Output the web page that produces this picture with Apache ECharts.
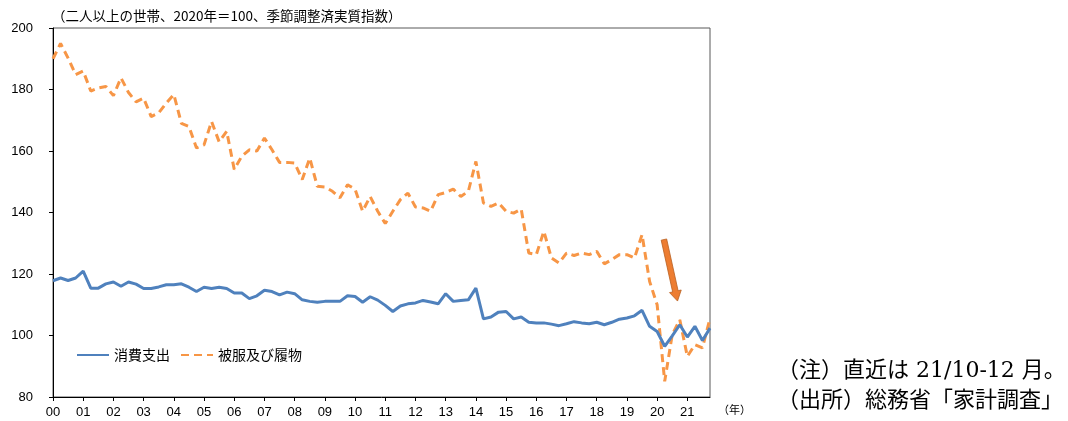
<!DOCTYPE html>
<html>
<head>
<meta charset="utf-8">
<script src="https://cdn.jsdelivr.net/npm/echarts@6/dist/echarts.min.js"></script>
<style>
  html, body { margin: 0; padding: 0; background: #fff; }
  #chart { width: 1068px; height: 421px; }
</style>
</head>
<body>
<div id="chart"></div>
<script>
// Year tick labels (one tick per year, first quarter)
const yearLabels = ['00','01','02','03','04','05','06','07','08','09','10',
                    '11','12','13','14','15','16','17','18','19','20','21'];
const quarterNames = ['Q1','Q2','Q3','Q4'];

// 消費支出 (quarterly, 2000Q1 - 2021Q4)
const consumption = [
  117.8, 118.7, 117.9, 118.7,
  120.9, 115.4, 115.4, 116.8,
  117.4, 116.0, 117.4, 116.7,
  115.3, 115.3, 115.8, 116.5,
  116.5, 116.8, 115.7, 114.3,
  115.7, 115.3, 115.7, 115.3,
  113.8, 113.8, 112.0, 112.9,
  114.7, 114.3, 113.2, 114.1,
  113.6, 111.6, 111.1, 110.8,
  111.1, 111.1, 111.1, 112.9,
  112.7, 110.8, 112.6, 111.5,
  109.8, 107.8, 109.6, 110.3,
  110.6, 111.4, 110.9, 110.3,
  113.6, 111.1, 111.4, 111.6,
  115.4, 105.4, 106.0, 107.6,
  107.8, 105.4, 106.0, 104.3,
  104.1, 104.1, 103.7, 103.2,
  103.8, 104.5, 104.1, 103.8,
  104.3, 103.5, 104.3, 105.3,
  105.7, 106.4, 108.2, 103.0,
  101.3, 96.5, 99.9, 103.5,
  99.5, 103.0, 98.4, 102.4
];

// 被服及び履物 (quarterly, 2000Q1 - 2021Q4)
const clothing = [
  190.0, 195.0, 190.2, 184.8,
  186.0, 179.5, 180.5, 181.0,
  178.0, 183.8, 179.0, 176.0,
  177.2, 171.2, 172.4, 175.6,
  178.4, 169.0, 168.0, 161.0,
  162.0, 169.6, 163.0, 166.4,
  154.0, 158.3, 160.4, 160.0,
  164.2, 160.4, 156.3, 156.3,
  156.1, 150.7, 157.7, 148.5,
  148.3, 146.9, 144.8, 149.0,
  147.6, 140.4, 145.2, 140.4,
  136.4, 140.4, 144.2, 146.3,
  141.8, 141.5, 140.4, 145.8,
  146.5, 147.6, 145.2, 146.9,
  156.6, 143.1, 142.0, 143.1,
  140.4, 139.8, 141.1, 126.8,
  126.3, 133.9, 125.2, 123.6,
  126.8, 126.0, 126.8, 126.3,
  127.4, 123.3, 124.7, 126.3,
  126.3, 125.2, 132.8, 117.6,
  110.0, 85.1, 100.3, 105.1,
  93.2, 97.0, 96.0, 105.6
];

// Annotation arrow, in (quarter index, index value) coordinates
const arrowFrom = [80.9, 131.2];
const arrowTo = [82.7, 111.2];

const categories = [];
yearLabels.forEach(function (y) {
  quarterNames.forEach(function (q) { categories.push(y + q); });
});

const chart = echarts.init(document.getElementById('chart'), null, { renderer: 'canvas' });

const numFont = 'Liberation Sans, Arial, sans-serif';
const jpFont = 'Noto Sans CJK JP, sans-serif';

chart.setOption({
  animation: false,
  backgroundColor: '#ffffff',
  grid: {
    left: 53, right: 358, top: 28, bottom: 24,
    show: true, borderColor: '#595959', borderWidth: 1,
    containLabel: false
  },
  xAxis: {
    type: 'category',
    data: categories,
    boundaryGap: false,
    axisLine: { lineStyle: { color: '#000', width: 1 } },
    axisTick: { show: true, interval: 3, length: 4, inside: false, lineStyle: { color: '#000' } },
    axisLabel: {
      interval: 3, margin: 9,
      color: '#000', fontFamily: numFont, fontSize: 13,
      formatter: function (v) { return v.slice(0, 2); }
    },
    splitLine: { show: false }
  },
  yAxis: {
    type: 'value',
    min: 80, max: 200, interval: 20,
    axisLine: { show: true, lineStyle: { color: '#000', width: 1 } },
    axisTick: { show: true, length: 4, lineStyle: { color: '#000' } },
    axisLabel: { color: '#000', fontFamily: numFont, fontSize: 13, margin: 20 },
    splitLine: { show: false }
  },
  legend: {
    left: 71, top: 343,
    itemWidth: 32, itemHeight: 10, itemGap: 10,
    itemStyle: { opacity: 0 },
    textStyle: { fontFamily: jpFont, fontSize: 14, color: '#000' },
    data: ['消費支出', '被服及び履物']
  },
  series: [
    {
      name: '消費支出', type: 'line', data: consumption,
      symbol: 'none', z: 3,
      lineStyle: { color: '#4F81BD', width: 3 },
      itemStyle: { color: '#4F81BD' }
    },
    {
      name: '被服及び履物', type: 'line', data: clothing,
      symbol: 'none', z: 2,
      lineStyle: { color: '#F79646', width: 3, type: [8, 5] },
      itemStyle: { color: '#F79646' }
    }
  ],
  graphic: [
    {
      id: 'unitNote', type: 'text', left: 52, top: 9,
      style: { text: '（二人以上の世帯、2020年＝100、季節調整済実質指数）', fontFamily: jpFont, fontSize: 13.5, fill: '#000' }
    },
    {
      id: 'yearUnit', type: 'text', left: 718, top: 404,
      style: { text: '（年）', fontFamily: jpFont, fontSize: 11, fill: '#000' }
    },
    {
      id: 'note', type: 'text', left: 777, top: 360,
      style: { text: '（注）直近は 21/10-12 月。', fontFamily: 'DejaVu Serif, Noto Sans CJK JP, serif', fontSize: 22, fill: '#000' }
    },
    {
      id: 'source', type: 'text', left: 777, top: 388,
      style: { text: '（出所）総務省「家計調査」', fontFamily: 'Noto Sans CJK JP, serif', fontSize: 22, fill: '#000' }
    }
  ]
});

// Place the annotation arrow through the chart's own axes
function toPixel(pt) {
  const i0 = Math.floor(pt[0]);
  const f = pt[0] - i0;
  const xa = chart.convertToPixel({ xAxisIndex: 0 }, i0);
  const xb = chart.convertToPixel({ xAxisIndex: 0 }, i0 + 1);
  const y = chart.convertToPixel({ yAxisIndex: 0 }, pt[1]);
  return [xa + (xb - xa) * f, y];
}
const a = toPixel(arrowFrom);
const b = toPixel(arrowTo);
const dx = b[0] - a[0], dy = b[1] - a[1];
const len = Math.sqrt(dx * dx + dy * dy);
const ux = dx / len, uy = dy / len;
const nx = -uy, ny = ux;
const bodyHalf = 2.8, headHalf = 6, headLen = 10;
const hx = b[0] - ux * headLen, hy = b[1] - uy * headLen;
const arrowPts = [
  [a[0] + nx * bodyHalf, a[1] + ny * bodyHalf],
  [hx + nx * bodyHalf, hy + ny * bodyHalf],
  [hx + nx * headHalf, hy + ny * headHalf],
  [b[0], b[1]],
  [hx - nx * headHalf, hy - ny * headHalf],
  [hx - nx * bodyHalf, hy - ny * bodyHalf],
  [a[0] - nx * bodyHalf, a[1] - ny * bodyHalf]
];
chart.setOption({
  graphic: [
    {
      id: 'arrow', type: 'polygon', z: 10,
      shape: { points: arrowPts },
      style: { fill: '#ED7D31', stroke: '#B9601F', lineWidth: 0.8 }
    }
  ]
});
</script>
</body>
</html>
